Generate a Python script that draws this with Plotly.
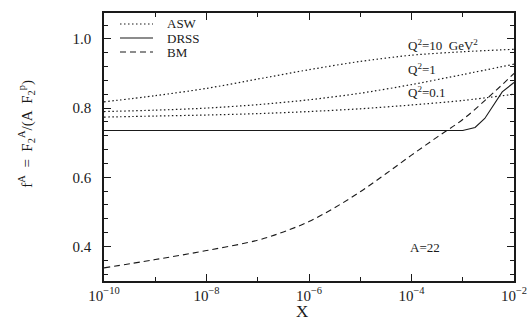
import plotly.graph_objects as go

# ---- data ----
asw_x = [1e-10, 1e-9, 1e-8, 1e-7, 1e-6, 1e-5, 1e-4, 1e-3, 1e-2]
asw_q10 = [0.818, 0.836, 0.857, 0.884, 0.911, 0.935, 0.953, 0.963, 0.970]
asw_q1 = [0.790, 0.794, 0.800, 0.810, 0.824, 0.843, 0.868, 0.897, 0.927]
asw_q01 = [0.774, 0.777, 0.780, 0.784, 0.790, 0.798, 0.809, 0.822, 0.840]

drss_x = [1e-10, 1e-3, 1.74e-3, 2.69e-3, 5.89e-3, 1e-2]
drss_y = [0.735, 0.735, 0.744, 0.770, 0.847, 0.874]

bm_x = [1e-10, 1e-9, 1e-8, 1e-7, 3.16e-7, 1e-6, 3.16e-6, 1e-5, 3.16e-5, 1e-4, 3.16e-4, 1e-3, 3.16e-3, 1e-2]
bm_y = [0.338, 0.362, 0.388, 0.418, 0.442, 0.472, 0.512, 0.558, 0.610, 0.664, 0.716, 0.767, 0.831, 0.900]

legend_names = ["ASW", "DRSS", "BM"]
legend_dash = ["1.5px,2.5px", "solid", "6px,4px"]

x_major = [1e-10, 1e-8, 1e-6, 1e-4, 1e-2]
x_major_text = ["10<sup>−10</sup>", "10<sup>−8</sup>", "10<sup>−6</sup>", "10<sup>−4</sup>", "10<sup>−2</sup>"]
x_minor = [1e-9, 1e-7, 1e-5, 1e-3]
y_major = [0.4, 0.6, 0.8, 1.0]
y_major_text = ["0.4", "0.6", "0.8", "1.0"]

FONT = "Liberation Serif"
INK = "#1a1a1a"
DOT = "1.5px,2.5px"

fig = go.Figure()
for yy in (asw_q10, asw_q1, asw_q01):
    fig.add_trace(go.Scatter(x=asw_x, y=yy, mode="lines", showlegend=False,
                             line=dict(color=INK, width=1.2, dash=DOT, shape="spline", smoothing=0.8)))
fig.add_trace(go.Scatter(x=drss_x, y=drss_y, mode="lines", showlegend=False,
                         line=dict(color=INK, width=1.1)))
fig.add_trace(go.Scatter(x=bm_x, y=bm_y, mode="lines", showlegend=False,
                         line=dict(color=INK, width=1.1, dash="6px,4px", shape="spline", smoothing=1.0)))

# legend drawn in paper space (compact spacing like the reference)
W, H, L, R, T, B = 532, 325, 104, 18, 13, 44
pw, ph = W - L - R, H - T - B
def px2paper(px, py):
    return (px - L) / pw, (H - B - py) / ph
for i, (nm, ds) in enumerate(zip(legend_names, legend_dash)):
    py = 24 + 14 * i
    x0, y0 = px2paper(120, py)
    x1, _ = px2paper(153, py)
    fig.add_shape(type="line", xref="paper", yref="paper", x0=x0, x1=x1, y0=y0, y1=y0,
                  line=dict(color=INK, width=1.2 if ds == DOT else 1.1, dash=ds))
    tx, _ = px2paper(165, py)
    fig.add_annotation(xref="paper", yref="paper", x=tx, y=y0, text=nm, showarrow=False,
                       xanchor="left", yanchor="middle", height=13,
                       font=dict(family=FONT, size=13, color=INK))

ann_font = dict(family=FONT, size=13, color=INK)
fig.add_annotation(x=-4.1, y=0.982, text="Q<sup>2</sup>=10  GeV<sup>2</sup>", showarrow=False,
                   xanchor="left", yanchor="middle", font=ann_font)
fig.add_annotation(x=-4.1, y=0.913, text="Q<sup>2</sup>=1", showarrow=False,
                   xanchor="left", yanchor="middle", font=ann_font)
fig.add_annotation(x=-4.1, y=0.846, text="Q<sup>2</sup>=0.1", showarrow=False,
                   xanchor="left", yanchor="middle", font=ann_font)
fig.add_annotation(x=-3.74, y=0.397, text="A=22", showarrow=False,
                   xanchor="center", yanchor="middle", font=ann_font)
fig.add_annotation(xref="paper", yref="paper", x=-0.19, y=0.55,
                   text="f<sup>A</sup>  =  F<sub>2</sub><sup>A</sup>/(A  F<sub>2</sub><sup>p</sup>)",
                   textangle=-90, showarrow=False, xanchor="center", yanchor="middle",
                   font=dict(family=FONT, size=15, color=INK))
fig.add_annotation(xref="paper", yref="paper", x=0.483, y=-0.114, text="X", showarrow=False,
                   xanchor="center", yanchor="middle", font=dict(family=FONT, size=17, color=INK))

fig.update_xaxes(type="log", range=[-10, -2], showgrid=False, zeroline=False, automargin=False,
                 showline=True, linecolor=INK, linewidth=1.5, mirror="allticks",
                 ticks="inside", ticklen=7, tickwidth=1, tickcolor=INK,
                 tickvals=x_major, ticktext=x_major_text, ticklabelstandoff=0,
                 tickfont=dict(family=FONT, size=15, color=INK),
                 minor=dict(tickvals=x_minor, ticks="inside", ticklen=4, tickcolor=INK, showgrid=False))
fig.update_yaxes(range=[0.3, 1.075], showgrid=False, zeroline=False, automargin=False,
                 showline=True, linecolor=INK, linewidth=1.5, mirror="allticks",
                 ticks="inside", ticklen=7, tickwidth=1, tickcolor=INK,
                 tickvals=y_major, ticktext=y_major_text,
                 tickfont=dict(family=FONT, size=15, color=INK),
                 ticklabelstandoff=8,
                 minor=dict(dtick=0.04, tick0=0.0, ticks="inside", ticklen=4, tickcolor=INK, showgrid=False))

fig.update_layout(width=W, height=H, margin=dict(l=L, r=R, t=T, b=B),
                  paper_bgcolor="white", plot_bgcolor="white", showlegend=False)

fig.write_html("out.html")
